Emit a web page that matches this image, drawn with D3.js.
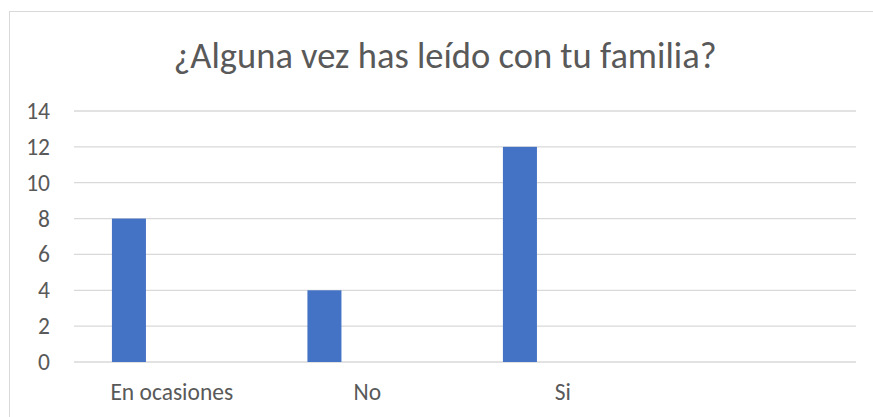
<!DOCTYPE html>
<html>
<head>
<meta charset="utf-8">
<script src="https://cdn.jsdelivr.net/npm/d3@7"></script>
<style>
  body { margin: 0; background: #fff; }
  text { font-family: Carlito, Calibri, "Open Sans", sans-serif; fill: #595959; }
</style>
</head>
<body>
<div id="chart"></div>
<script>
const title = "¿Alguna vez has leído con tu familia?";
const categories = ["En ocasiones", "No", "Si", ""];
const values = [8, 4, 12, null];
const yTicks = [0, 2, 4, 6, 8, 10, 12, 14];

const width = 873, height = 417;
const plot = { left: 74, right: 856, top: 111, bottom: 362 };

const svg = d3.select("#chart").append("svg")
    .attr("width", width)
    .attr("height", height);

svg.append("rect")
    .attr("x", 9.5).attr("y", 11.5)
    .attr("width", 900).attr("height", 450)
    .attr("fill", "#fff")
    .attr("stroke", "#d9d9d9")
    .attr("stroke-width", 1);

svg.append("text")
    .attr("x", 445)
    .attr("y", 68)
    .attr("text-anchor", "middle")
    .style("font-size", "36.5px")
    .text(title);

const x = d3.scaleBand().domain(categories).range([plot.left, plot.right]).padding(0);
const y = d3.scaleLinear().domain([0, 14]).range([plot.bottom, plot.top]);

// gridlines
svg.append("g").selectAll("line").data(yTicks).enter().append("line")
    .attr("x1", plot.left).attr("x2", plot.right)
    .attr("y1", d => y(d)).attr("y2", d => y(d))
    .attr("stroke", "#d9d9d9")
    .attr("stroke-width", 1.3);

// y labels
const yAxis = svg.append("g")
    .attr("transform", `translate(${plot.left},0)`)
    .call(d3.axisLeft(y).tickValues(yTicks).tickSize(0).tickPadding(24));
yAxis.select(".domain").remove();
yAxis.selectAll("text").style("font-size", "23.5px").attr("fill", "#595959");

// x labels
const xAxis = svg.append("g")
    .attr("transform", `translate(0,${plot.bottom})`)
    .call(d3.axisBottom(x).tickSize(0).tickPadding(0));
xAxis.select(".domain").remove();
xAxis.selectAll("text").style("font-size", "23.5px").attr("fill", "#595959")
    .attr("dy", null).attr("y", 38);

// bars sit in the left part of each category band
const barOffset = 0.194, barWidth = 0.174;
svg.append("g").selectAll("rect")
    .data(categories.map((c, i) => ({ c, v: values[i] })).filter(d => d.v != null))
    .enter().append("rect")
    .attr("x", d => x(d.c) + x.bandwidth() * barOffset)
    .attr("y", d => y(d.v))
    .attr("width", x.bandwidth() * barWidth)
    .attr("height", d => y(0) - y(d.v))
    .attr("fill", "#4472c4");
</script>
</body>
</html>
